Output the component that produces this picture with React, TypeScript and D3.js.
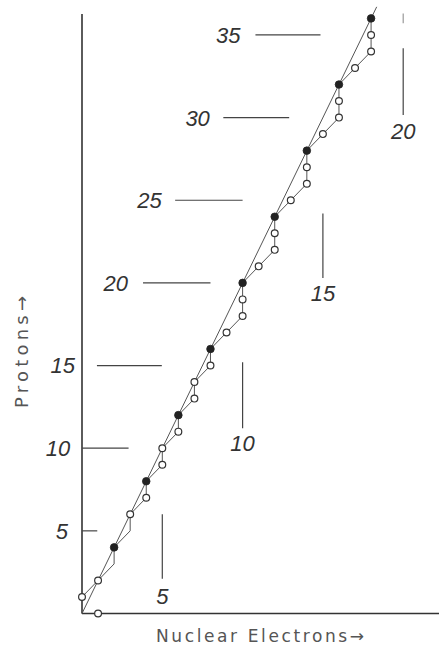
import React from 'react';
import * as d3 from 'd3';

// Harkins-style plot: protons vs nuclear electrons in light nuclei
const filledElectrons = [2, 4, 6, 8, 10, 12, 14, 16, 18];
const filledProtons = [4, 8, 12, 16, 20, 24, 28, 32, 36];

const openElectrons = [0, 1, 1, 3, 4, 5, 5, 6, 7, 7, 8, 9, 10, 10, 11, 12, 12, 13, 14, 14, 15, 16, 16, 17, 18, 18];
const openProtons = [1, 0, 2, 6, 7, 9, 10, 11, 13, 14, 15, 17, 18, 19, 21, 22, 23, 25, 26, 27, 29, 30, 31, 33, 34, 35];

// zig-zag line through the isotopes
const pathElectrons = [0, 1, 2, 2, 3, 3, 4, 4, 5, 5, 6, 6, 7, 7, 8, 8, 9, 10, 10, 10, 11, 12, 12, 12, 13, 14, 14, 14, 15, 16, 16, 16, 17, 18, 18, 18];
const pathProtons = [1, 2, 3, 4, 5, 6, 7, 8, 9, 10, 11, 12, 13, 14, 15, 16, 17, 18, 19, 20, 21, 22, 23, 24, 25, 26, 27, 28, 29, 30, 31, 32, 33, 34, 35, 36];

// straight line P = 2E
const lineElectrons = [0, 18.35];
const lineProtons = [0, 36.7];

// proton labels, set along the diagonal (positions in electron units)
const protonTicks = [5, 10, 15, 20, 25, 30, 35];
const protonLabelAt = [-1.25, -1.5, -1.2, 2.1, 4.2, 7.2, 9.1];
const protonLineFrom = [0, 0, 0.93, 3.8, 5.8, 8.8, 10.8];
const protonLineTo = [0.95, 2.9, 4.97, 8.0, 10.0, 12.9, 14.85];

// electron labels (positions in proton units)
const electronTicks = [5, 10, 15, 20];
const electronLineTop = [6.0, 15.2, 24.2, 34.2];
const electronLineBottom = [2.1, 11.2, 20.3, 30.15];
const electronLabelAt = [1.05, 10.3, 19.4, 29.2];

const W = 439;
const H = 655;
const ink = '#333';
const numFont = '"Liberation Sans", Arial, sans-serif';
const titleFont = '"DejaVu Sans", sans-serif';

export default function App() {
    const x = d3.scaleLinear().domain([0, 20]).range([82, 403.2]);
    const y = d3.scaleLinear().domain([0, 36]).range([613.5, 18.4]);

    const zigzag = d3.line<number>()
        .x((_d, i) => x(pathElectrons[i]))
        .y((d) => y(d))(pathProtons) || '';

    const straight = d3.line<number>()
        .x((_d, i) => x(lineElectrons[i]))
        .y((d) => y(d))(lineProtons) || '';

    return (
        <svg
            width={W}
            height={H}
            viewBox={`0 0 ${W} ${H}`}
            style={{ position: 'absolute', left: 0, top: 0, background: '#fff', display: 'block' }}
        >
            {/* axes */}
            <line x1={x(0)} y1={14} x2={x(0)} y2={y(0)} stroke={ink} strokeWidth={1.6} />
            <line x1={x(0)} y1={y(0)} x2={W} y2={y(0)} stroke={ink} strokeWidth={1.4} />

            {/* proton tick labels */}
            {protonTicks.map((v, i) => (
                <g key={`p${v}`}>
                    <line
                        x1={x(protonLineFrom[i])}
                        x2={x(protonLineTo[i])}
                        y1={y(v)}
                        y2={y(v)}
                        stroke="#444"
                        strokeWidth={1.2}
                    />
                    <text
                        x={x(protonLabelAt[i])}
                        y={y(v)}
                        dy="0.36em"
                        textAnchor="middle"
                        fontFamily={numFont}
                        fontStyle="italic"
                        fontSize={22}
                        fill={ink}
                    >
                        {v}
                    </text>
                </g>
            ))}

            {/* electron tick labels */}
            {electronTicks.map((v, i) => (
                <g key={`e${v}`}>
                    <line
                        x1={x(v)}
                        x2={x(v)}
                        y1={y(electronLineTop[i])}
                        y2={y(electronLineBottom[i])}
                        stroke="#444"
                        strokeWidth={1.2}
                    />
                    <text
                        x={x(v)}
                        y={y(electronLabelAt[i])}
                        dy="0.36em"
                        textAnchor="middle"
                        fontFamily={numFont}
                        fontStyle="italic"
                        fontSize={22}
                        fill={ink}
                    >
                        {v}
                    </text>
                </g>
            ))}
            <line x1={x(20)} x2={x(20)} y1={y(36.3)} y2={y(35.7)} stroke="#999" strokeWidth={1.2} />

            {/* lines */}
            <path d={straight} fill="none" stroke="#555" strokeWidth={1} />
            <path d={zigzag} fill="none" stroke="#555" strokeWidth={1} />

            {/* points */}
            {openProtons.map((p, i) => (
                <circle
                    key={`o${i}`}
                    cx={x(openElectrons[i])}
                    cy={y(p)}
                    r={3.4}
                    fill="#fff"
                    stroke={ink}
                    strokeWidth={1.2}
                />
            ))}
            {filledProtons.map((p, i) => (
                <circle
                    key={`f${i}`}
                    cx={x(filledElectrons[i])}
                    cy={y(p)}
                    r={3.8}
                    fill="#222"
                    stroke="#222"
                    strokeWidth={0.8}
                />
            ))}

            {/* axis titles */}
            <text
                x={260}
                y={642}
                textAnchor="middle"
                fontFamily={titleFont}
                fontSize={17}
                fill="#555"
                textLength={208}
                lengthAdjust="spacing"
            >
                Nuclear Electrons→
            </text>
            <text
                transform="translate(28, 352) rotate(-90)"
                textAnchor="middle"
                fontFamily={titleFont}
                fontSize={18}
                fill="#555"
                textLength={112}
                lengthAdjust="spacing"
            >
                Protons→
            </text>
        </svg>
    );
}
